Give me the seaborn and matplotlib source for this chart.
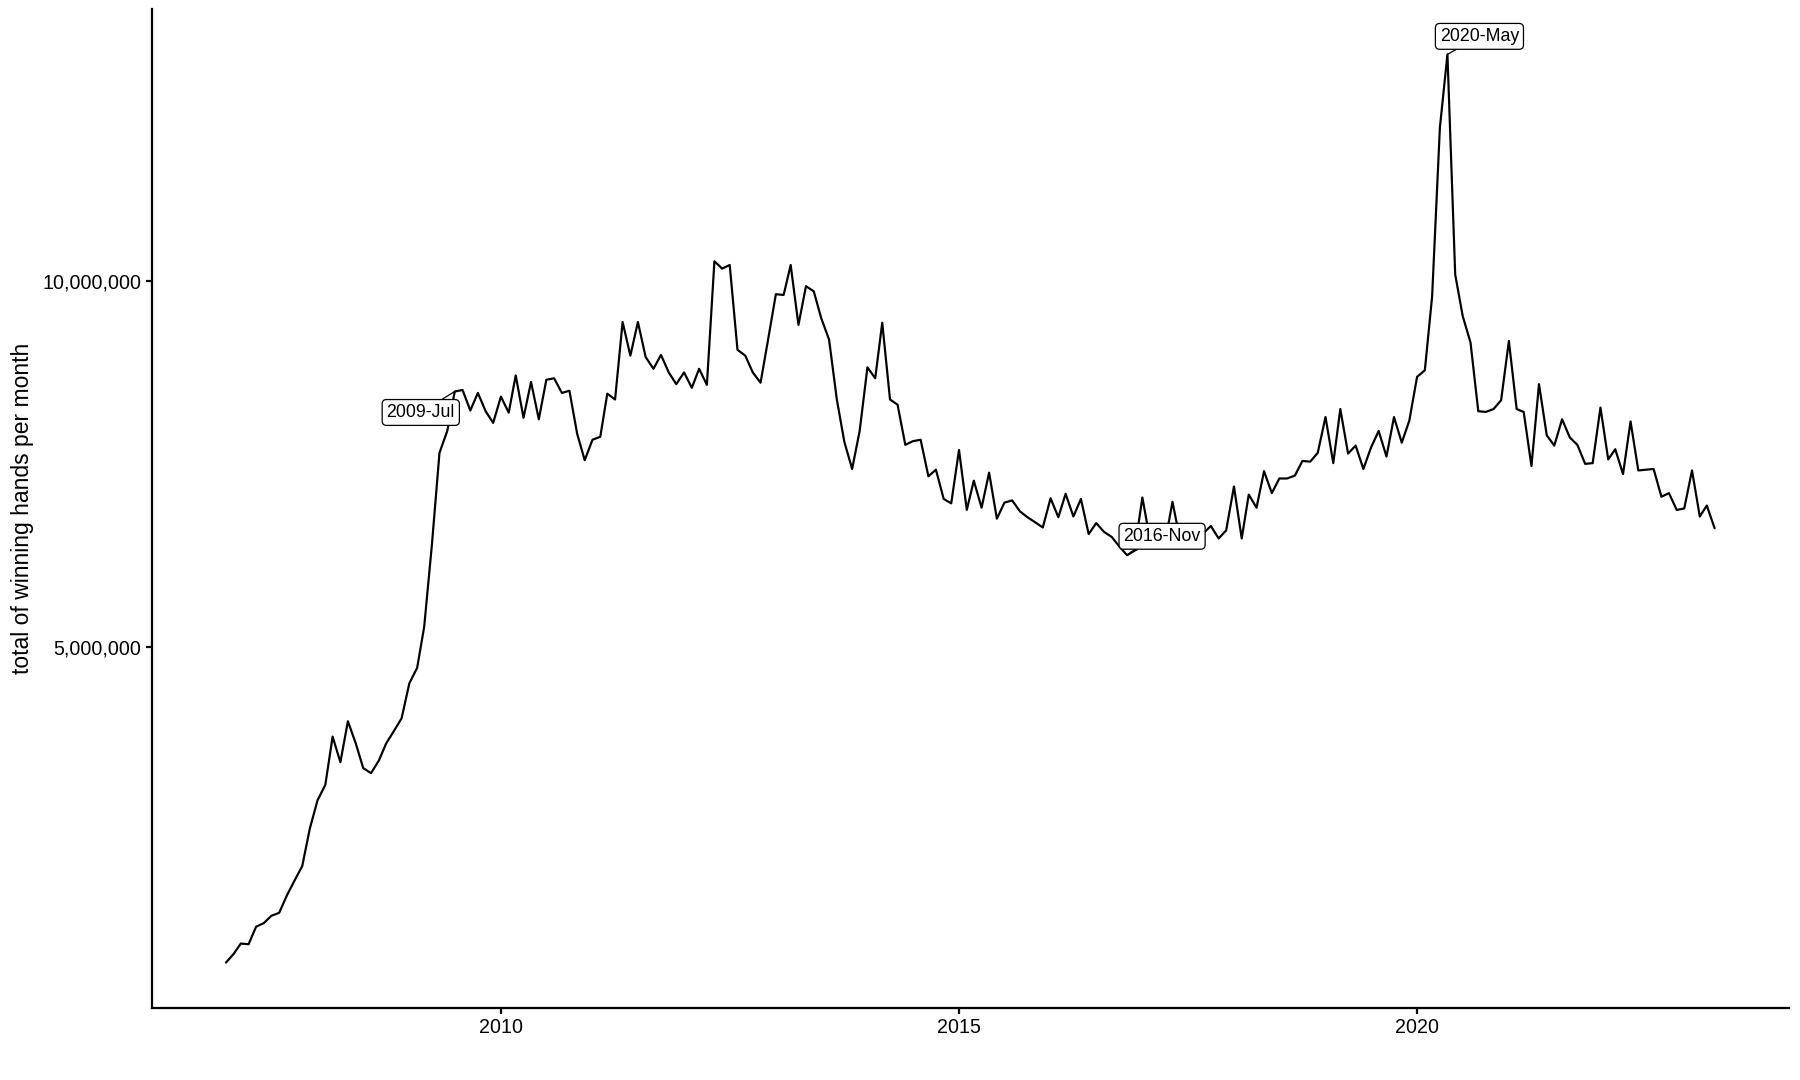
import numpy as np
import pandas as pd
import matplotlib
matplotlib.use("Agg")
import matplotlib.pyplot as plt
import matplotlib.dates as mdates
import matplotlib.ticker as mticker
import seaborn as sns

# ---------------- data ----------------
start_month = "2007-01"
hands_millions = [
    0.68, 0.80, 0.94, 0.93, 1.17, 1.22, 1.32, 1.36, 1.60, 1.80, 2.00, 2.51,
    2.90, 3.11, 3.77, 3.42, 3.98, 3.68, 3.34, 3.27, 3.44, 3.68, 3.85, 4.02,
    4.50, 4.71, 5.27, 6.40, 7.65, 7.95, 8.49, 8.51, 8.23, 8.47, 8.22, 8.06,
    8.42, 8.20, 8.71, 8.13, 8.62, 8.11, 8.65, 8.67, 8.47, 8.50, 7.91, 7.55,
    7.83, 7.87, 8.46, 8.38, 9.44, 8.98, 9.44, 8.96, 8.80, 8.99, 8.75, 8.59,
    8.75, 8.54, 8.80, 8.58, 10.27, 10.17, 10.22, 9.06, 8.98, 8.75, 8.61, 9.20,
    9.82, 9.81, 10.22, 9.40, 9.93, 9.86, 9.49, 9.20, 8.38, 7.80, 7.43, 7.95,
    8.82, 8.67, 9.43, 8.38, 8.31, 7.76, 7.81, 7.83, 7.33, 7.42, 7.02, 6.96,
    7.69, 6.87, 7.27, 6.90, 7.38, 6.75, 6.97, 7.00, 6.85, 6.77, 6.70, 6.63,
    7.03, 6.77, 7.09, 6.78, 7.02, 6.54, 6.69, 6.57, 6.50, 6.37, 6.25, 6.32,
    7.04, 6.45, 6.50, 6.42, 6.98, 6.45, 6.50, 6.40, 6.55, 6.65, 6.48, 6.59,
    7.19, 6.48, 7.08, 6.90, 7.40, 7.10, 7.30, 7.30, 7.34, 7.54, 7.53, 7.65,
    8.14, 7.51, 8.25, 7.64, 7.75, 7.43, 7.72, 7.95, 7.60, 8.14, 7.79, 8.09,
    8.69, 8.78, 9.79, 12.10, 13.10, 10.09, 9.52, 9.16, 8.22, 8.21, 8.25, 8.37,
    9.18, 8.25, 8.21, 7.47, 8.59, 7.89, 7.75, 8.11, 7.86, 7.76, 7.50, 7.51,
    8.27, 7.56, 7.70, 7.36, 8.08, 7.41, 7.42, 7.43, 7.05, 7.10, 6.87, 6.89,
    7.41, 6.78, 6.93, 6.62,
]
label_months = ["2009-Jul", "2016-Nov", "2020-May"]
y_ticks = [5_000_000, 10_000_000]
x_tick_years = [2010, 2015, 2020]
y_title = "total of winning hands per month"

# ---------------- style ----------------
sns.set_style("ticks")
plt.rcParams["font.family"] = ["Liberation Sans", "DejaVu Sans"]

dates = pd.date_range(start_month, periods=len(hands_millions), freq="MS")
df = pd.DataFrame({"month": dates, "hands": np.array(hands_millions) * 1e6})

fig, ax = plt.subplots(figsize=(12, 7.2), dpi=150)
fig.subplots_adjust(left=0.0842, right=0.9939, bottom=0.0667, top=0.9917)

sns.lineplot(data=df, x="month", y="hands", color="black", linewidth=1.05,
             ax=ax, zorder=2)

# limits with 5% expansion (ggplot-like)
x0 = mdates.date2num(dates[0])
x1 = mdates.date2num(dates[-1])
xr = x1 - x0
ax.set_xlim(x0 - 0.05 * xr, x1 + 0.05 * xr)
y0, y1 = df["hands"].min(), df["hands"].max()
yr = y1 - y0
ax.set_ylim(y0 - 0.05 * yr, y1 + 0.05 * yr)

ax.set_xticks([mdates.date2num(pd.Timestamp(f"{y}-01-01")) for y in x_tick_years])
ax.xaxis.set_major_formatter(mdates.DateFormatter("%Y"))
ax.yaxis.set_major_locator(mticker.FixedLocator(y_ticks))
ax.yaxis.set_major_formatter(mticker.FuncFormatter(lambda v, p: f"{int(v):,}"))

for s in ["top", "right"]:
    ax.spines[s].set_visible(False)
for s in ["left", "bottom"]:
    ax.spines[s].set_linewidth(1.07)
    ax.spines[s].set_color("black")

ax.tick_params(axis="both", length=2.75, width=1.07, pad=2.2,
               labelsize=9.4, colors="black", direction="out")
ax.set_xlabel("")
ax.set_ylabel(y_title, fontsize=11, color="black", labelpad=4)

# ---------------- labels ----------------
offsets_px = [(-34, -21), (35, 19), (32, 18)]
for lab, (dx, dy) in zip(label_months, offsets_px):
    d = pd.to_datetime(lab, format="%Y-%b")
    v = df.loc[df["month"] == d, "hands"].iloc[0]
    ax.annotate(
        lab, xy=(mdates.date2num(d), v), xytext=(dx, dy),
        textcoords="offset pixels", ha="center", va="center",
        fontsize=8.5, color="black", zorder=5,
        bbox=dict(boxstyle="round,pad=0.25,rounding_size=0.25",
                  fc="white", ec="black", lw=0.6),
        arrowprops=dict(arrowstyle="-", color="black", lw=0.6,
                        shrinkA=0, shrinkB=0),
    )

fig.savefig("out.png", dpi=150)
